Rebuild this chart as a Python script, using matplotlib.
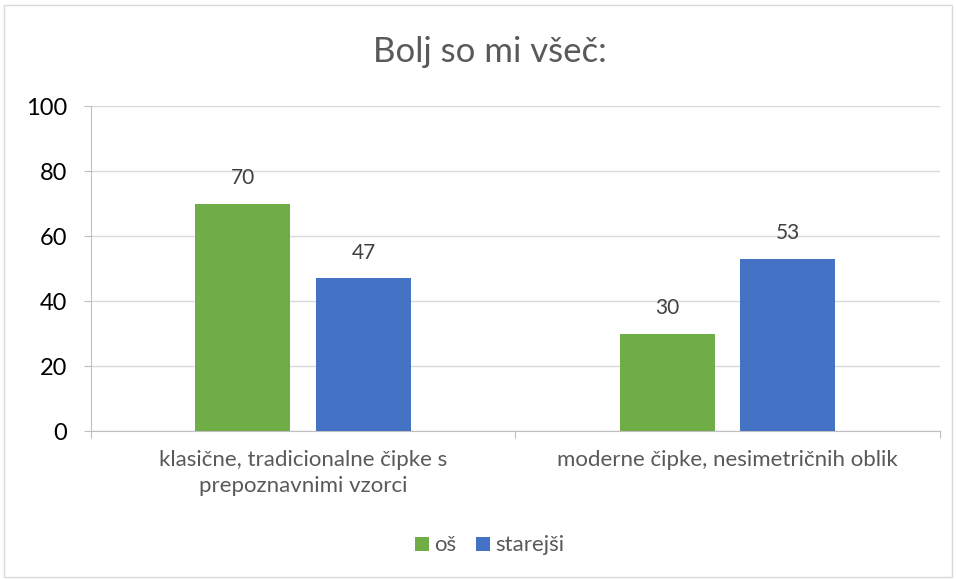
import numpy as np
import matplotlib.pyplot as plt
from matplotlib.patches import Rectangle

categories = ['klasične, tradicionalne čipke s\nprepoznavnimi vzorci',
              'moderne čipke, nesimetričnih oblik']
series_names = ['oš', 'starejši']
os_values = [70, 30]
starejsi_values = [47, 53]
colors = ['#70AD47', '#4472C4']

plt.rcParams['font.family'] = ['Lato', 'DejaVu Sans']

fig = plt.figure(figsize=(9.56, 5.79), dpi=100)
ax = fig.add_axes([0.0952, 0.2556, 0.8878, 0.5613])

x = np.arange(len(categories))
width = 0.224
offset = 0.142
for vals, name, col, sgn in [(os_values, series_names[0], colors[0], -1),
                             (starejsi_values, series_names[1], colors[1], 1)]:
    bars = ax.bar(x + sgn * offset, vals, width, color=col, label=name, zorder=3)
    for b, v in zip(bars, vals):
        ax.annotate(str(v), (b.get_x() + b.get_width() / 2, v),
                    xytext=(0, 11), textcoords='offset points',
                    ha='center', va='bottom', fontsize=15, color='#404040')

ax.set_xlim(-0.5, 1.5)
ax.set_ylim(0, 100)
ax.set_yticks(range(0, 101, 20))
ax.yaxis.grid(True, color='#D9D9D9', linewidth=1, zorder=0)
ax.set_xticks([-0.5, 0.5, 1.5], minor=False)
ax.set_xticklabels([])
ax.set_xticks(x, minor=True)
ax.set_xticklabels(categories, minor=True, fontsize=16, color='#595959',
                   linespacing=1.35)
ax.tick_params(axis='x', which='minor', length=0, pad=14)
ax.tick_params(axis='x', which='major', length=5, color='#BFBFBF')
ax.tick_params(axis='y', length=5, color='#BFBFBF', labelsize=17, labelcolor='#000000', pad=12)
for s in ['top', 'right']:
    ax.spines[s].set_visible(False)
for s in ['left', 'bottom']:
    ax.spines[s].set_color('#BFBFBF')

fig.text(0.512, 0.91, 'Bolj so mi všeč:', ha='center', va='center',
         fontsize=25, color='#595959')

ax.legend(loc='center', bbox_to_anchor=(0.47, -0.352), ncol=2, frameon=False,
          fontsize=16, labelcolor='#595959', handlelength=0.6, handleheight=0.6,
          columnspacing=0.9, handletextpad=0.25)

fig.patches.append(Rectangle((0.004, 0.003), 0.992, 0.989, transform=fig.transFigure,
                             fill=False, edgecolor='#D9D9D9', linewidth=1))

fig.savefig('out.png', dpi=100)
